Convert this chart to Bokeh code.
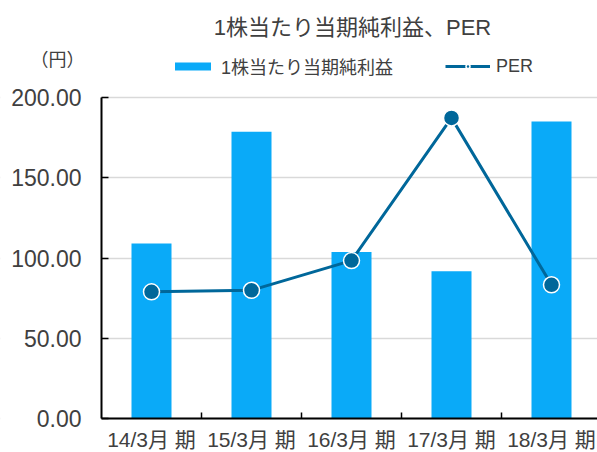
from bokeh.plotting import figure
from bokeh.models import (Range1d, FixedTicker, NumeralTickFormatter, Label,
                          Legend, LegendItem, BoxAnnotation)
from bokeh.embed import file_html
from bokeh.resources import INLINE

# ---- data ----
periods = ["14/3月 期", "15/3月 期", "16/3月 期", "17/3月 期", "18/3月 期"]
eps = [109.0, 178.6, 103.8, 91.8, 185.0]
per = [78.9, 79.9, 98.4, 187.3, 83.3]
y_ticks = [0, 50, 100, 150, 200]

title_text = "1株当たり当期純利益、PER"
unit_text = "（円）"
eps_label = "1株当たり当期純利益"
per_label = "PER"

FONT = "'Liberation Sans', 'Noto Sans CJK JP'"
TXT = "#404040"
BAR = "#0AAAF8"
LINE = "#00679A"

W, H = 597, 452
# plot area in page pixels: left 101, right 597, top(200) 97, bottom(0) 418
PX_X = 100.0               # pixels per category
PX_Y = (418 - 97) / 200.0  # pixels per yen

xs = list(range(1, len(periods) + 1))

x0 = 0.5 - 101 / PX_X
x1 = 0.5 + (W - 101) / PX_X
y0 = -(H - 418) / PX_Y
y1 = 418 / PX_Y

p = figure(width=W, height=H, output_backend="svg", toolbar_location=None,
           x_range=Range1d(x0, x1), y_range=Range1d(y0, y1),
           min_border_left=0, min_border_right=0, min_border_top=0,
           min_border_bottom=0)
p.outline_line_color = None

# grid
p.xgrid.grid_line_color = None
p.ygrid.grid_line_color = "#D9D9D9"
p.ygrid.grid_line_width = 1.5
p.ygrid.ticker = FixedTicker(ticks=y_ticks)
# keep the grid lines out of the tick-label strip
p.add_layout(BoxAnnotation(right=0.5, fill_color="white", fill_alpha=1,
                           line_color=None, level="underlay"))

bars = p.vbar(x=xs, top=eps, width=0.4, fill_color=BAR, line_color=None)
ln = p.line(xs, per, line_width=3, line_color=LINE)
sc = p.scatter(xs, per, size=16, fill_color=LINE, line_color="white", line_width=1.5)

xa = p.xaxis[0]
xa.fixed_location = 0
xa.bounds = (0.5, x1)
xa.ticker = FixedTicker(ticks=xs, minor_ticks=[1.5, 2.5, 3.5, 4.5])
xa.major_label_overrides = {x: lab for x, lab in zip(xs, periods)}
xa.major_tick_line_color = None
xa.minor_tick_line_color = "black"
xa.minor_tick_line_width = 1.5
xa.minor_tick_in = 6
xa.minor_tick_out = 0
xa.axis_line_color = "black"
xa.axis_line_width = 2
xa.major_label_text_font = FONT
xa.major_label_text_font_size = "21px"
xa.major_label_text_color = TXT
xa.major_label_standoff = 3

ya = p.yaxis[0]
ya.fixed_location = 0.5
ya.bounds = (0, 200)
ya.ticker = FixedTicker(ticks=y_ticks)
ya.formatter = NumeralTickFormatter(format="0.00")
ya.minor_tick_line_color = None
ya.major_tick_in = 7
ya.major_tick_out = 0
ya.major_tick_line_width = 1.5
ya.axis_line_color = "black"
ya.axis_line_width = 2
ya.major_label_text_font = FONT
ya.major_label_text_font_size = "23px"
ya.major_label_text_color = TXT
ya.major_label_standoff = 20

# title and unit
p.add_layout(Label(x=0.5 + (352 - 101) / PX_X, y=(418 - 27) / PX_Y,
                   text=title_text, text_align="center", text_baseline="middle",
                   text_font=FONT, text_font_size="22px", text_color=TXT))
p.add_layout(Label(x=0.5 + (57 - 101) / PX_X, y=(418 - 59) / PX_Y,
                   text=unit_text, text_align="center", text_baseline="middle",
                   text_font="'Liberation Sans', 'Noto Sans CJK SC'",
                   text_font_size="18px", text_color=TXT))

legend = Legend(items=[LegendItem(label=eps_label, renderers=[bars]),
                       LegendItem(label=per_label, renderers=[ln, sc])],
                location=(170, H - 69 - 10), orientation="horizontal",
                padding=0, margin=0, spacing=52, label_standoff=6,
                glyph_width=45, glyph_height=10, label_height=20,
                label_text_font=FONT, label_text_font_size="18px",
                label_text_color=TXT, background_fill_alpha=0,
                border_line_color=None)
p.add_layout(legend, "center")

open("out.html", "w").write(file_html(p, INLINE))
